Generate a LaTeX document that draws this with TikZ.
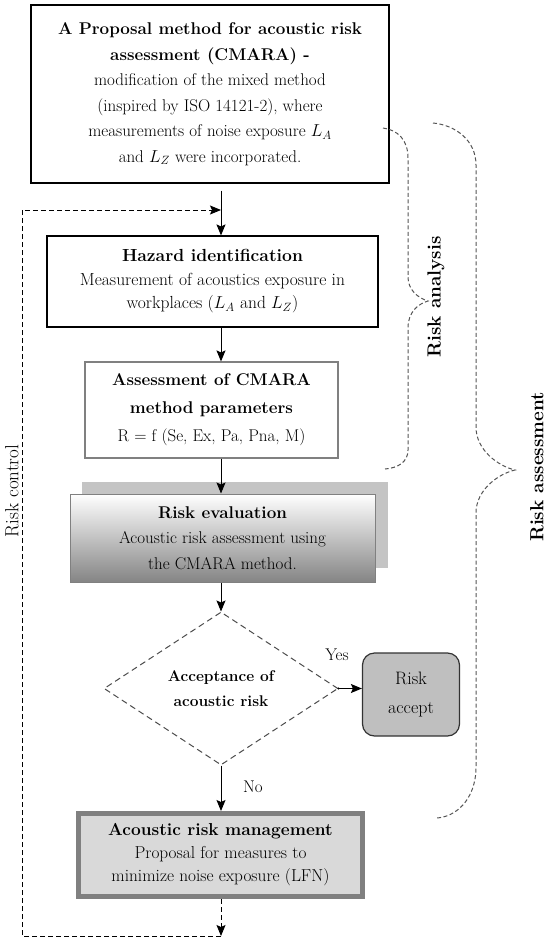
\documentclass[tikz,border=0pt]{standalone}
\usetikzlibrary{shapes.geometric,arrows.meta}
\definecolor{braceg}{HTML}{555555}
\definecolor{shadowg}{HTML}{C4C4C4}
\definecolor{acceptg}{HTML}{BFBFBF}
\definecolor{mgmtfill}{HTML}{D9D9D9}
\definecolor{mgmtline}{HTML}{808080}
\definecolor{boxgray}{HTML}{808080}
\begin{document}
\begin{tikzpicture}[x=1pt,y=-1pt,
  box/.style={draw, line width=1.1pt, align=center, inner sep=0pt,
    font=\fontsize{17}{25.5}\selectfont},
  arr/.style={-{Stealth[length=11pt,width=9pt,inset=2pt]}, line width=1pt},
  loopline/.style={dash pattern=on 5pt off 3pt, line width=1pt},
  bracestyle/.style={draw=braceg, dash pattern=on 4pt off 2.5pt, line width=1pt},
  lbl/.style={font=\fontsize{19}{22}\selectfont\bfseries, rotate=90, inner sep=0pt},
  small/.style={font=\fontsize{17}{20}\selectfont, inner sep=0pt}
]
\useasboundingbox (0,0) rectangle (550,945);

% shadow behind risk evaluation
\fill[shadowg] (82,482) rectangle (388,568);

\node[box, minimum width=358pt, minimum height=178pt] (top) at (210,94)
 {\textbf{A Proposal method for acoustic risk}\\
  \textbf{assessment (CMARA) -}\\
  modification of the mixed method\\
  (inspired by ISO 14121-2), where\\
  measurements of noise exposure $L_{A}$\\
  and $L_{Z}$ were incorporated.};

\node[box, minimum width=331pt, minimum height=91pt,
  font=\fontsize{17.5}{23.5}\selectfont] (haz) at (212.5,281.5)
 {\textbf{Hazard identification}\\
  Measurement of acoustics exposure in\\
  workplaces ($L_{A}$ and $L_{Z}$)};

\node[box, draw=boxgray, minimum width=253pt, minimum height=96pt,
  font=\fontsize{17}{28}\selectfont] (par) at (211.5,410)
 {\textbf{Assessment of CMARA}\\
  \textbf{method parameters}\\
  R = f (Se, Ex, Pa, Pna, M)};

\node[box, draw=boxgray, line width=1pt, minimum width=305pt, minimum height=88pt,
  top color=white, bottom color=black!48] (eval) at (222.5,538)
 {\textbf{Risk evaluation}\\
  Acoustic risk assessment using\\
  the CMARA method.};

\node[diamond, draw=black!70, dash pattern=on 6pt off 4pt, line width=1pt,
  minimum width=234pt, minimum height=153pt, inner sep=0pt, align=center,
  font=\fontsize{15.5}{25}\selectfont\bfseries] (dia) at (221,688.5)
 {Acceptance of\\ acoustic risk};

\node[draw=black!80, fill=acceptg, line width=1.2pt, rounded corners=12pt,
  minimum width=97pt, minimum height=83pt, inner sep=0pt, align=center,
  font=\fontsize{18}{29}\selectfont] (acc) at (411,694.5)
 {Risk\\ accept};

\node[box, draw=mgmtline, line width=5pt, fill=mgmtfill,
  minimum width=284pt, minimum height=83pt,
  font=\fontsize{17.3}{23}\selectfont] (mgmt) at (220.5,855)
 {\textbf{Acoustic risk management}\\
  Proposal for measures to\\
  minimize noise exposure (LFN)};

\node[small] (yes) at (337,655) {Yes};
\node[small] (no) at (253,787) {No};

% main column connectors
\coordinate (j) at (221,210);
\coordinate (lb) at (221,936);
\coordinate (ll) at (22,936);
\coordinate (lt) at (22,210);

\draw[arr, shorten <=7pt] (j |- top.south) -- (j |- haz.north);
\draw[arr] (j |- haz.south) -- (j |- par.north);
\draw[arr] (j |- par.south) -- (j |- eval.north);
\draw[arr] (j |- eval.south) -- (dia.north);
\draw[arr] (dia.south) -- (dia.south |- mgmt.north);
\draw[arr] (dia.east) -- (dia.east -| acc.west);
\fill (dia.east) circle (1.2pt);

% risk control loop
\draw[loopline, arr] (lb |- mgmt.south) -- (lb);
\draw[loopline, arr] (lb) -- (ll) -- (lt) -- (j);

% braces
\draw[bracestyle] (383,128) .. controls (398,130) and (408,140) .. (408,158)
  -- (408,277) .. controls (408,290) and (418,298) .. (428,301)
  .. controls (418,304) and (408,312) .. (408,328)
  -- (408,450) .. controls (408,462) and (398,468) .. (385,469);
\draw[bracestyle] (433,123) .. controls (455,125) and (476,140) .. (476,165)
  -- (476,427) .. controls (476,450) and (498,466) .. (515,470)
  .. controls (498,474) and (476,490) .. (476,513)
  -- (476,767) .. controls (476,800) and (455,818) .. (435,818);

% labels
\node[lbl] (ranal) at (436,297) {Risk analysis};
\node[lbl] (rass) at (537,467) {Risk assessment};
\node[lbl, font=\fontsize{19}{22}\selectfont] (rctrl) at (12,491) {Risk control};
\end{tikzpicture}
\end{document}
